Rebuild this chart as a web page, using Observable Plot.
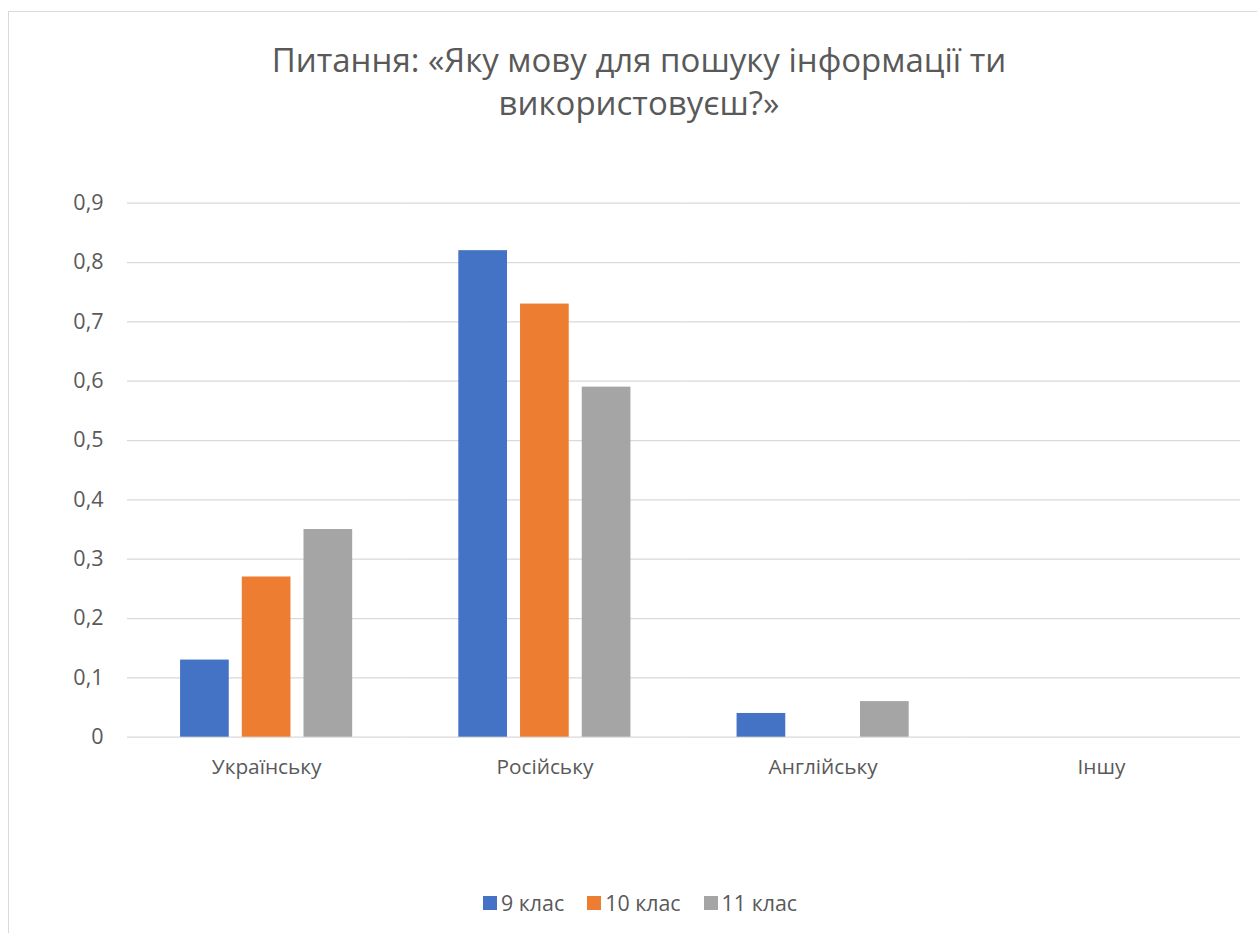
<!DOCTYPE html>
<html>
<head>
<meta charset="utf-8">
<script src="https://cdn.jsdelivr.net/npm/d3@7"></script>
<script src="https://cdn.jsdelivr.net/npm/@observablehq/plot@0.6"></script>
<style>
  html, body { margin: 0; padding: 0; background: #fff; }
  #wrap { position: relative; width: 1257px; height: 933px; overflow: hidden; font-family: "Open Sans", sans-serif; color: #595959; }
  #frame { position: absolute; left: 8px; top: 11px; width: 1300px; height: 1000px; border: 1.5px solid #D9D9D9; box-sizing: border-box; }
  #title { position: absolute; left: 0; width: 1278px; top: 38px; text-align: center; font-size: 33px; line-height: 43px; color: #595959; }
  #chart { position: absolute; left: 0; top: 160px; }
  #legend { position: absolute; top: 888px; left: 0; width: 1280px; display: flex; justify-content: center; gap: 23px; font-size: 21.4px; }
  .item { display: flex; align-items: center; gap: 4px; }
  .sw { width: 14px; height: 14px; display: inline-block; }
</style>
</head>
<body>
<div id="wrap">
  <div id="frame"></div>
  <div id="title">Питання: «Яку мову для пошуку інформації ти<br>використовуєш?»</div>
  <div id="chart"></div>
  <div id="legend"></div>
</div>
<script>
const categories = ["Українську", "Російську", "Англійську", "Іншу"];
const series = ["9 клас", "10 клас", "11 клас"];
const values9 = [0.13, 0.82, 0.04, 0];
const values10 = [0.27, 0.73, 0, 0];
const values11 = [0.35, 0.59, 0.06, 0];
const colors = ["#4472C4", "#ED7D31", "#A5A5A5"];
const yTicks = [0, 0.1, 0.2, 0.3, 0.4, 0.5, 0.6, 0.7, 0.8, 0.9];

const allValues = [values9, values10, values11];
const data = [];
categories.forEach((c, i) => {
  series.forEach((s, j) => {
    data.push({category: c, series: s, value: allValues[j][i]});
  });
});

const fmt = d => String(d).replace(".", ",");

const plot = Plot.plot({
  width: 1257,
  height: 680,
  marginTop: 42.7,
  marginBottom: 103.3,
  marginLeft: 127,
  marginRight: 17,
  style: { fontFamily: "Open Sans, sans-serif", fontSize: "20px", color: "#595959", background: "transparent" },
  fx: { domain: categories, padding: 0, label: null, round: false },
  x: { domain: series, paddingInner: 0.211, paddingOuter: 0.86, axis: null, round: false },
  y: { domain: [0, 0.9], label: null },
  color: { domain: series, range: colors },
  marks: [
    Plot.gridY(yTicks, { stroke: "#D9D9D9", strokeOpacity: 1, strokeWidth: 1.3 }),
    Plot.axisY(yTicks, { tickSize: 0, tickPadding: 24, tickFormat: fmt, label: null, fill: "#595959", fontSize: 21.5 }),
    Plot.axisFx({ anchor: "bottom", tickSize: 0, tickPadding: 22, label: null, fill: "#595959", fontSize: 20.8 }),
    Plot.barY(data, { fx: "category", x: "series", y: "value", fill: "series" })
  ]
});
document.getElementById("chart").appendChild(plot);

const legend = document.getElementById("legend");
series.forEach((s, j) => {
  const it = document.createElement("div");
  it.className = "item";
  it.innerHTML = `<span class="sw" style="background:${colors[j]}"></span><span>${s}</span>`;
  legend.appendChild(it);
});
</script>
</body>
</html>
